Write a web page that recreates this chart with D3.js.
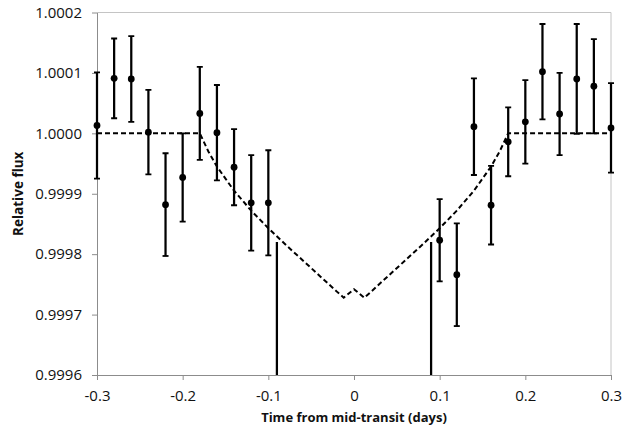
<!DOCTYPE html>
<html>
<head>
<meta charset="utf-8">
<script src="https://cdn.jsdelivr.net/npm/d3@7"></script>
<style>
  html, body { margin: 0; padding: 0; background: #fff; }
  svg { display: block; }
  text { font-family: "Open Sans", "Liberation Sans", sans-serif; fill: #111; }
</style>
</head>
<body>
<svg id="chart" width="636" height="430"></svg>
<script>
// ---- data ----
const timeX = [-0.30, -0.28, -0.26, -0.24, -0.22, -0.20, -0.18, -0.16, -0.14, -0.12, -0.10, -0.09,
               0.09, 0.10, 0.12, 0.14, 0.16, 0.18, 0.20, 0.22, 0.24, 0.26, 0.28, 0.30];
const flux = [1.000013, 1.000091, 1.000090, 1.000002, 0.999882, 0.999927, 1.000033, 1.000001, 0.999944, 0.999885, 0.999885, 0.99956,
              0.99956, 0.999823, 0.999766, 1.000011, 0.999881, 0.999986, 1.000019, 1.000102, 1.000032, 1.000090, 1.000078, 1.000009];
const fluxErr = [0.000088, 0.000066, 0.000071, 0.000070, 0.000085, 0.000073, 0.000077, 0.000079, 0.000063, 0.000079, 0.000087, 0.00026,
                 0.00026, 0.000068, 0.000085, 0.000080, 0.000065, 0.000057, 0.000069, 0.000079, 0.000068, 0.000091, 0.000078, 0.000074];

const modelTime = [-0.30, -0.18, -0.17, -0.16, -0.15, -0.14, -0.12, -0.10, -0.08, -0.06, -0.04, -0.02, -0.012, 0.0,
                   0.012, 0.02, 0.04, 0.06, 0.08, 0.10, 0.12, 0.14, 0.15, 0.16, 0.17, 0.18, 0.30];
const modelFlux = [1.0, 1.0, 0.99997, 0.999945, 0.999925, 0.999905, 0.999872, 0.999843, 0.999816, 0.99979, 0.999764, 0.999738, 0.999728, 0.999742,
                   0.999728, 0.999738, 0.999764, 0.99979, 0.999816, 0.999843, 0.999872, 0.999905, 0.999925, 0.999945, 0.99997, 1.0, 1.0];

const xTicks = [-0.3, -0.2, -0.1, 0, 0.1, 0.2, 0.3];
const xTickLabels = ["-0.3", "-0.2", "-0.1", "0", "0.1", "0.2", "0.3"];
const yTicks = [0.9996, 0.9997, 0.9998, 0.9999, 1.0000, 1.0001, 1.0002];
const yTickLabels = ["0.9996", "0.9997", "0.9998", "0.9999", "1.0000", "1.0001", "1.0002"];
const xTitle = "Time from mid-transit (days)";
const yTitle = "Relative flux";

// ---- layout ----
const L = 97, R = 611, T = 12.5, B = 375;
const svg = d3.select("#chart");
const x = d3.scaleLinear().domain([-0.3, 0.3]).range([L, R]);
const y = d3.scaleLinear().domain([0.9996, 1.0002]).range([B, T]);

svg.append("defs").append("clipPath").attr("id", "plotclip")
  .append("rect").attr("x", L - 6).attr("y", T - 6).attr("width", R - L + 12).attr("height", B - T + 6);

// plot area border (top/right)
svg.append("path")
  .attr("d", `M${L},${T}H${R}V${B}`)
  .attr("fill", "none").attr("stroke", "#c4c4c4").attr("stroke-width", 1);

// axes
const yAxis = d3.axisLeft(y).tickValues(yTicks).tickFormat((d, i) => yTickLabels[i]).tickSizeInner(5).tickSizeOuter(0).tickPadding(10);
const xAxis = d3.axisBottom(x).tickValues(xTicks).tickFormat((d, i) => xTickLabels[i]).tickSizeInner(5).tickSizeOuter(0).tickPadding(10);

const gy = svg.append("g").attr("transform", `translate(${L},0)`).call(yAxis);
const gx = svg.append("g").attr("transform", `translate(0,${B})`).call(xAxis);
[gx, gy].forEach(g => {
  g.select(".domain").attr("stroke", "#8c8c8c").attr("stroke-width", 1);
  g.selectAll(".tick line").attr("stroke", "#8c8c8c");
  g.selectAll(".tick text").attr("font-size", 15).attr("fill", "#111")
    .style("font-family", '"Open Sans", "Liberation Sans", sans-serif');
});

const plot = svg.append("g").attr("clip-path", "url(#plotclip)");

// model line
const line = d3.line().x((d, i) => x(modelTime[i])).y((d, i) => y(modelFlux[i]));
plot.append("path")
  .datum(modelFlux)
  .attr("d", line)
  .attr("fill", "none")
  .attr("stroke", "#000")
  .attr("stroke-width", 2)
  .attr("stroke-dasharray", "5,3");

// error bars
const pts = timeX.map((t, i) => ({ t, f: flux[i], e: fluxErr[i] }));
const inRange = d => d.f >= y.domain()[0];
const eb = plot.append("g").selectAll("g").data(pts).join("g");
eb.append("line")
  .attr("x1", d => x(d.t)).attr("x2", d => x(d.t))
  .attr("y1", d => y(d.f - d.e)).attr("y2", d => y(d.f + d.e))
  .attr("stroke", "#000").attr("stroke-width", 2.25);
eb.filter(inRange).append("line")
  .attr("x1", d => x(d.t) - 3).attr("x2", d => x(d.t) + 3)
  .attr("y1", d => y(d.f + d.e)).attr("y2", d => y(d.f + d.e))
  .attr("stroke", "#000").attr("stroke-width", 1.8);
eb.filter(inRange).append("line")
  .attr("x1", d => x(d.t) - 3).attr("x2", d => x(d.t) + 3)
  .attr("y1", d => y(d.f - d.e)).attr("y2", d => y(d.f - d.e))
  .attr("stroke", "#000").attr("stroke-width", 1.8);

// markers
plot.append("g").selectAll("circle").data(pts.filter(inRange)).join("circle")
  .attr("cx", d => x(d.t)).attr("cy", d => y(d.f)).attr("r", 3.4).attr("fill", "#000");

// titles
svg.append("text")
  .attr("x", (L + R) / 2).attr("y", 422)
  .attr("text-anchor", "middle").attr("font-weight", "bold").attr("font-size", 13)
  .text(xTitle);
svg.append("text")
  .attr("transform", `translate(23,${(T + B) / 2}) rotate(-90)`)
  .attr("text-anchor", "middle").attr("font-weight", "bold").attr("font-size", 13.5)
  .text(yTitle);
</script>
</body>
</html>
